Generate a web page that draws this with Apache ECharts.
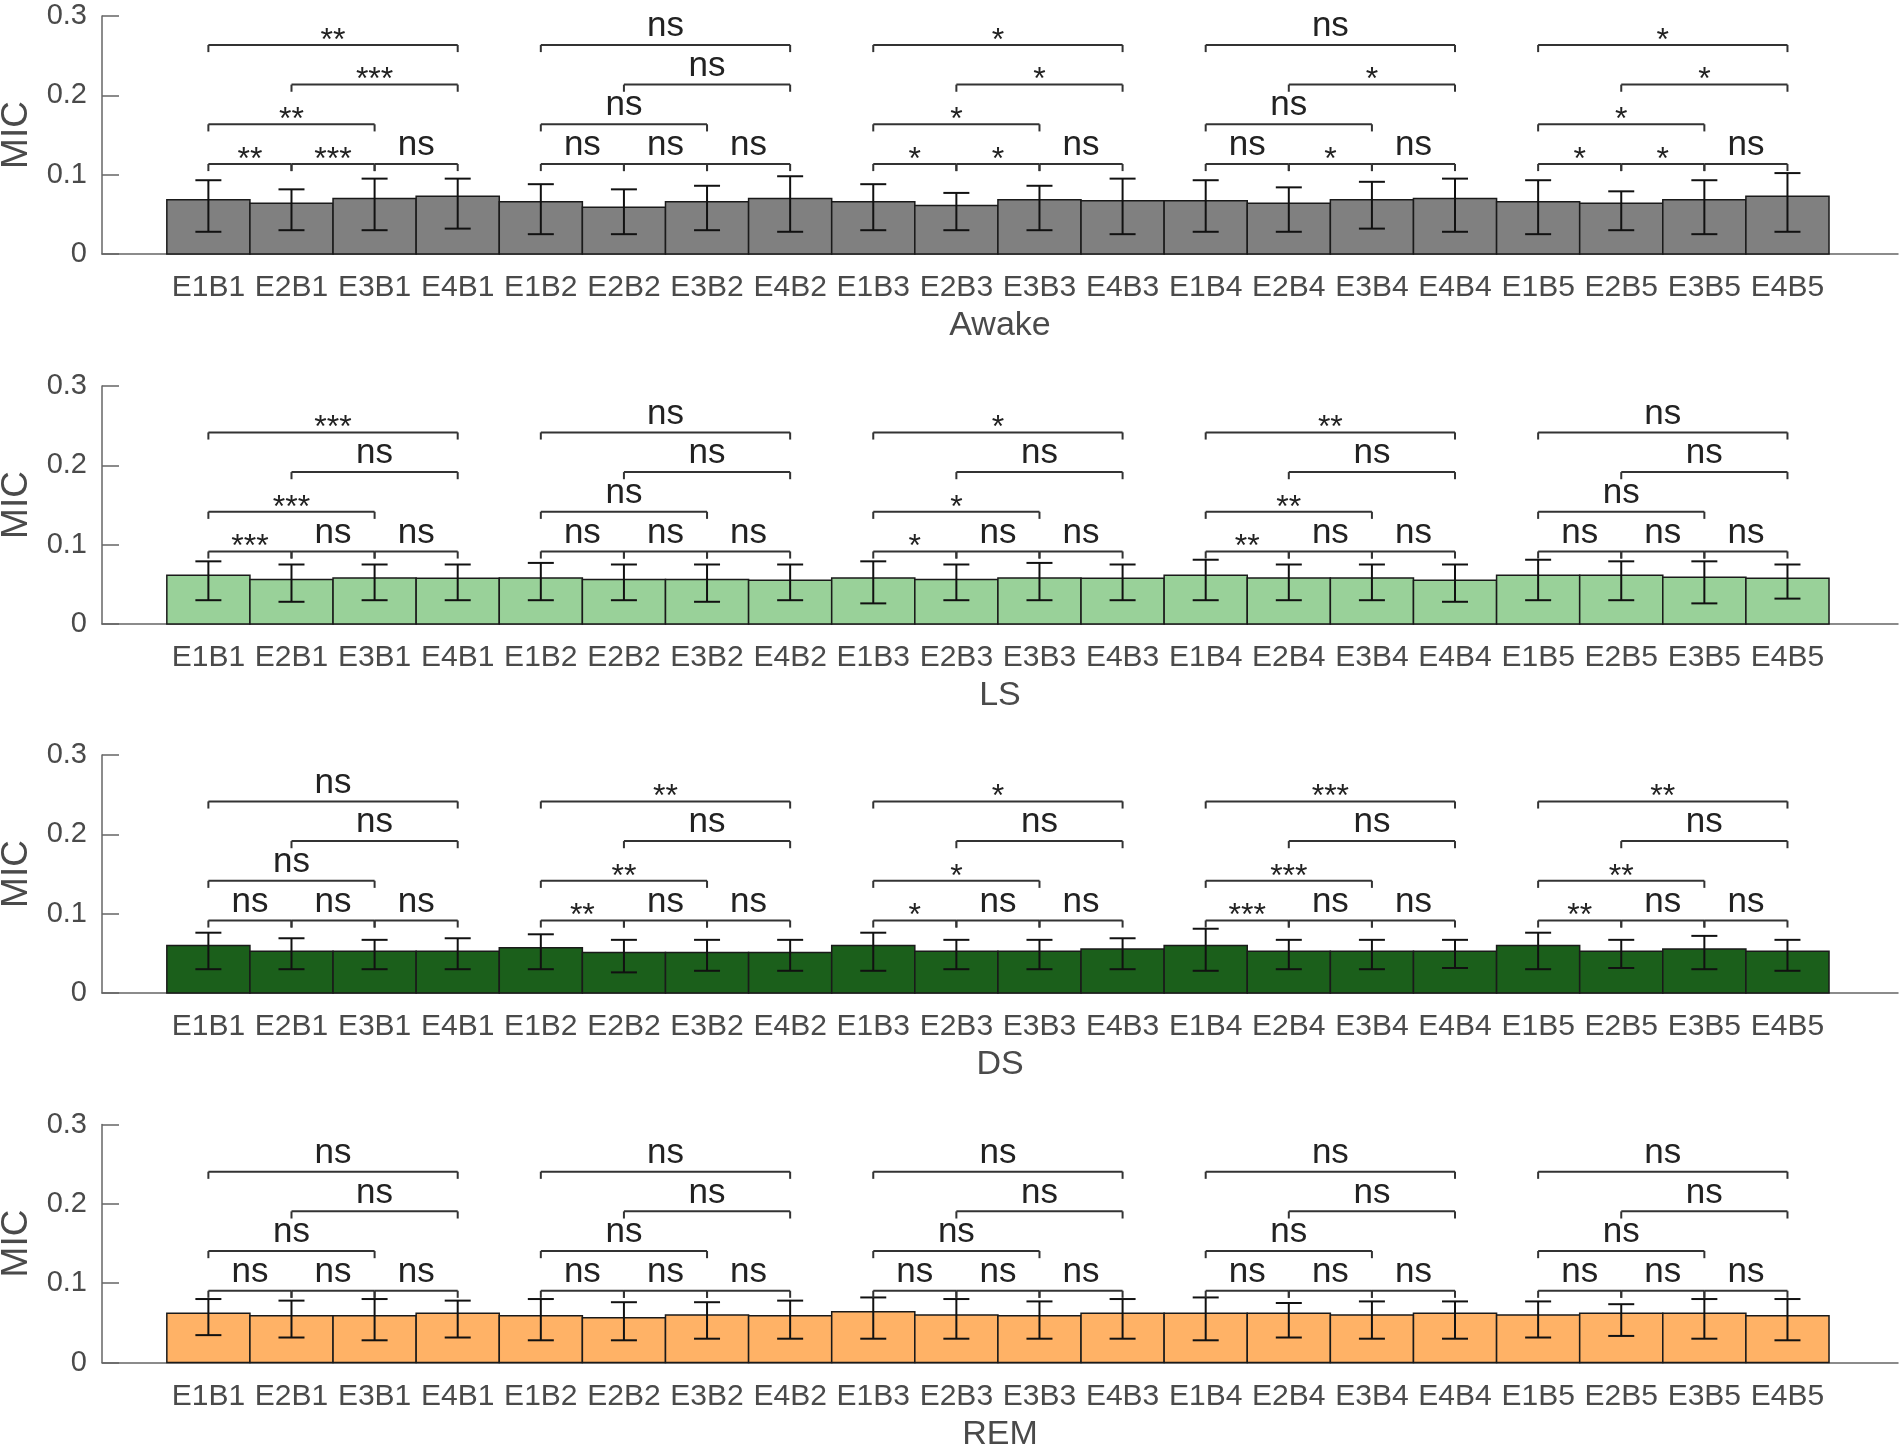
<!DOCTYPE html>
<html>
<head>
<meta charset="utf-8">
<script src="https://cdn.jsdelivr.net/npm/echarts@6.0.0/dist/echarts.min.js"></script>
<style>
html, body { margin: 0; background: #fff; }
#main { width: 1902px; height: 1454px; }
</style>
</head>
<body>
<div id="main"></div>
<script>
// tick labels and panel names
var tickLabels = ['E1B1','E2B1','E3B1','E4B1','E1B2','E2B2','E3B2','E4B2','E1B3','E2B3',
                  'E3B3','E4B3','E1B4','E2B4','E3B4','E4B4','E1B5','E2B5','E3B5','E4B5'];
var stageNames = ['Awake', 'LS', 'DS', 'REM'];
var stageColors = ['#808080', '#99D199', '#1B5F1B', '#FFB266'];

// bar heights and error bar ends
var awakeMean = [0.0685,0.064,0.070,0.0727, 0.066,0.059,0.066,0.070, 0.066,0.061,0.0685,0.067, 0.067,0.064,0.0685,0.070, 0.066,0.064,0.0685,0.0727];
var awakeHigh = [0.093,0.0815,0.095,0.095, 0.088,0.0815,0.086,0.098, 0.088,0.077,0.086,0.095, 0.093,0.084,0.091,0.095, 0.093,0.079,0.093,0.102];
var awakeLow  = [0.028,0.030,0.030,0.032, 0.025,0.025,0.030,0.028, 0.030,0.030,0.030,0.025, 0.028,0.028,0.032,0.028, 0.025,0.030,0.025,0.028];

var lsMean = [0.0613,0.056,0.058,0.0576, 0.058,0.056,0.056,0.055, 0.058,0.056,0.058,0.0576, 0.0613,0.058,0.058,0.055, 0.0613,0.0613,0.059,0.0576];
var lsHigh = [0.079,0.075,0.075,0.075, 0.077,0.075,0.075,0.075, 0.079,0.075,0.077,0.075, 0.081,0.075,0.075,0.075, 0.081,0.079,0.079,0.075];
var lsLow  = [0.030,0.028,0.030,0.030, 0.030,0.030,0.028,0.030, 0.026,0.030,0.030,0.030, 0.030,0.030,0.030,0.028, 0.030,0.030,0.026,0.032];

var dsMean = [0.060,0.0525,0.0525,0.0525, 0.057,0.051,0.051,0.051, 0.060,0.0525,0.0525,0.0555, 0.060,0.0525,0.0525,0.0525, 0.060,0.0525,0.0555,0.0525];
var dsHigh = [0.076,0.069,0.067,0.069, 0.074,0.067,0.067,0.067, 0.076,0.067,0.067,0.069, 0.081,0.067,0.067,0.067, 0.076,0.067,0.072,0.067];
var dsLow  = [0.030,0.030,0.030,0.030, 0.030,0.026,0.028,0.028, 0.028,0.030,0.030,0.030, 0.028,0.030,0.030,0.0315, 0.030,0.0315,0.030,0.028];

var remMean = [0.062,0.059,0.059,0.062, 0.059,0.0565,0.060,0.059, 0.064,0.060,0.059,0.062, 0.062,0.062,0.060,0.062, 0.060,0.062,0.062,0.059];
var remHigh = [0.080,0.078,0.080,0.078, 0.080,0.076,0.076,0.078, 0.082,0.080,0.077,0.080, 0.082,0.075,0.077,0.077, 0.077,0.0735,0.080,0.080];
var remLow  = [0.0345,0.0315,0.028,0.0315, 0.028,0.028,0.030,0.030, 0.030,0.030,0.030,0.030, 0.028,0.0315,0.030,0.030, 0.0315,0.0335,0.030,0.028];

// comparisons inside each block of four: E1-E2, E2-E3, E3-E4, E1-E3, E2-E4, E1-E4
var pairs  = [[1,2],[2,3],[3,4],[1,3],[2,4],[1,4]];
var levels = [0, 0, 0, 1, 2, 3];
var NS = ['ns','ns','ns','ns','ns','ns'];
var awakeSig = [['**','***','ns','**','***','**'], NS, ['*','*','ns','*','*','*'], ['ns','*','ns','ns','*','ns'], ['*','*','ns','*','*','*']];
var lsSig    = [['***','ns','ns','***','ns','***'], NS, ['*','ns','ns','*','ns','*'], ['**','ns','ns','**','ns','**'], NS];
var dsSig    = [NS, ['**','ns','ns','**','ns','**'], ['*','ns','ns','*','ns','*'], ['***','ns','ns','***','ns','***'], ['**','ns','ns','**','ns','**']];
var remSig   = [NS, NS, NS, NS, NS];
var bracketBase = [0.1135, 0.0915, 0.0915, 0.0905];
var bracketStep = 0.05;
var bracketDrop = 0.009;

var means = [awakeMean, lsMean, dsMean, remMean];
var highs = [awakeHigh, lsHigh, dsHigh, remHigh];
var lows  = [awakeLow, lsLow, dsLow, remLow];
var sigs  = [awakeSig, lsSig, dsSig, remSig];

var FONT = "'Liberation Sans', Arial, Helvetica, sans-serif";
var TEXT = '#4a4a4a';
var AXIS = '#666666';

var myChart = echarts.init(document.getElementById('main'));

var gridTops = [16, 386, 755, 1124.5];
var grids = [], xAxes = [], yAxes = [], series = [];

for (let p = 0; p < 4; p++) {
    grids.push({ left: 102, right: 4, top: gridTops[p], height: 238,
                 containLabel: false, outerBoundsMode: 'none' });
    xAxes.push({
        type: 'value', gridIndex: p, min: -0.28, max: 21.33,
        axisLine: { show: true, onZero: false, lineStyle: { color: AXIS, width: 1.5 } },
        axisTick: { show: false },
        splitLine: { show: false },
        axisLabel: {
            customValues: tickLabels.map((t, i) => i + 1),
            formatter: v => tickLabels[Math.round(v) - 1] || '',
            margin: 19, fontSize: 30, color: TEXT, fontFamily: FONT
        },
        name: stageNames[p], nameLocation: 'middle', nameGap: 55,
        nameTextStyle: { fontSize: 34, color: TEXT, fontFamily: FONT }
    });
    yAxes.push({
        type: 'value', gridIndex: p, min: 0, max: 0.3, interval: 0.1,
        // keep the y axis at the grid's left edge, not at x = 0
        axisLine: { show: true, onZero: false, lineStyle: { color: AXIS, width: 1.5 } },
        axisTick: { show: true, inside: true, length: 17, lineStyle: { color: AXIS, width: 1.5 } },
        splitLine: { show: false },
        axisLabel: { fontSize: 29, color: TEXT, margin: 15, fontFamily: FONT,
                     formatter: v => String(Math.round(v * 10) / 10) },
        name: 'MIC', nameLocation: 'middle', nameGap: 57, nameRotate: 90,
        nameTextStyle: { fontSize: 37, color: TEXT, fontFamily: FONT }
    });

    // bars
    series.push({
        type: 'custom', xAxisIndex: p, yAxisIndex: p, clip: false,
        data: means[p].map((v, i) => [i + 1, v]),
        encode: { x: 0, y: 1 },
        renderItem: function (params, api) {
            var x = api.value(0), v = api.value(1);
            var a = api.coord([x - 0.5, v]);
            var b = api.coord([x + 0.5, 0]);
            return {
                type: 'rect',
                shape: { x: a[0], y: a[1], width: b[0] - a[0], height: b[1] - a[1] },
                style: { fill: stageColors[p], stroke: '#1a1a1a', lineWidth: 1.5 }
            };
        }
    });

    // error bars
    series.push({
        type: 'custom', xAxisIndex: p, yAxisIndex: p, clip: false, z: 3,
        data: means[p].map((v, i) => [i + 1, lows[p][i], highs[p][i]]),
        encode: { x: 0, y: [1, 2] },
        renderItem: function (params, api) {
            var x = api.value(0);
            var lo = api.coord([x, api.value(1)]);
            var hi = api.coord([x, api.value(2)]);
            var cap = 13;
            var st = { stroke: '#111', lineWidth: 2 };
            return {
                type: 'group',
                children: [
                    { type: 'line', shape: { x1: lo[0], y1: lo[1], x2: hi[0], y2: hi[1] }, style: st },
                    { type: 'line', shape: { x1: lo[0] - cap, y1: lo[1], x2: lo[0] + cap, y2: lo[1] }, style: st },
                    { type: 'line', shape: { x1: hi[0] - cap, y1: hi[1], x2: hi[0] + cap, y2: hi[1] }, style: st }
                ]
            };
        }
    });

    // significance brackets
    let bData = [], bLabels = [];
    for (let g = 0; g < 5; g++) {
        for (let k = 0; k < 6; k++) {
            bData.push([g * 4 + pairs[k][0], g * 4 + pairs[k][1], bracketBase[p] + levels[k] * bracketStep]);
            bLabels.push(sigs[p][g][k]);
        }
    }
    series.push({
        type: 'custom', xAxisIndex: p, yAxisIndex: p, clip: false, z: 4,
        data: bData,
        encode: { x: [0, 1], y: 2 },
        renderItem: function (params, api) {
            var y = api.value(2);
            var a = api.coord([api.value(0), y]);
            var b = api.coord([api.value(1), y]);
            var a2 = api.coord([api.value(0), y - bracketDrop]);
            var label = bLabels[params.dataIndex];
            var st = { stroke: '#333', lineWidth: 2 };
            var isStar = label !== 'ns';
            return {
                type: 'group',
                children: [
                    { type: 'line', shape: { x1: a[0], y1: a[1], x2: b[0], y2: b[1] }, style: st },
                    { type: 'line', shape: { x1: a[0], y1: a[1], x2: a[0], y2: a2[1] }, style: st },
                    { type: 'line', shape: { x1: b[0], y1: b[1], x2: b[0], y2: a2[1] }, style: st },
                    {
                        type: 'text', x: (a[0] + b[0]) / 2, y: a[1] - (isStar ? 4 : 18.5),
                        style: { text: label, fill: '#222', fontSize: isStar ? 32 : 35, fontFamily: FONT,
                                 align: 'center', verticalAlign: 'middle' }
                    }
                ]
            };
        }
    });
}

var option = {
    backgroundColor: '#fff',
    animation: false,
    grid: grids,
    xAxis: xAxes,
    yAxis: yAxes,
    series: series
};

myChart.setOption(option);
</script>
</body>
</html>
